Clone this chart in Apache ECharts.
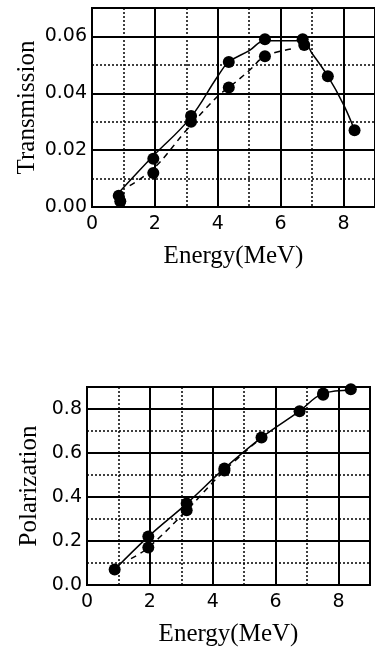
<!DOCTYPE html>
<html>
<head>
<meta charset="utf-8">
<script src="https://cdn.jsdelivr.net/npm/echarts@6/dist/echarts.min.js"></script>
<style>
  html,body{margin:0;padding:0;background:#fff;}
  #chart{width:375px;height:653px;}
</style>
</head>
<body>
<div id="chart"></div>
<script>
// measured points, transmission panel
var transEnergyA = [0.85, 1.95, 3.15, 4.35, 5.5, 6.7, 7.5, 8.35];
var transA = [0.004, 0.017, 0.032, 0.051, 0.059, 0.059, 0.046, 0.027];
var transEnergyB = [0.9, 1.95, 3.15, 4.35, 5.5, 6.75];
var transB = [0.002, 0.012, 0.030, 0.042, 0.053, 0.057];
// fitted curves, transmission panel
var transFitEnergyA = [0.85, 1.95, 3.1, 4.0, 4.35, 5.0, 5.5, 6.7, 7.0, 7.5, 8.0, 8.35];
var transFitA = [0.005, 0.018, 0.031, 0.046, 0.051, 0.055, 0.0585, 0.0585, 0.054, 0.046, 0.036, 0.027];
var transFitEnergyB = [1.2, 2.0, 3.0, 4.0, 4.35, 5.0, 5.5, 6.4];
var transFitB = [0.0075, 0.014, 0.027, 0.039, 0.042, 0.048, 0.053, 0.0557];

// measured points, polarization panel
var polEnergyA = [0.88, 1.95, 3.17, 4.37, 5.55, 6.76, 7.51, 8.39];
var polA = [0.07, 0.22, 0.37, 0.53, 0.67, 0.79, 0.87, 0.89];
var polEnergyB = [1.95, 3.17, 4.37, 7.51];
var polB = [0.17, 0.34, 0.52, 0.865];
// fitted curves, polarization panel
var polFitEnergyA = [0.88, 1.95, 3.17, 4.37, 5.55, 6.76, 7.51, 8.39];
var polFitA = [0.07, 0.22, 0.37, 0.53, 0.67, 0.79, 0.87, 0.885];
var polFitEnergyB = [1.4, 1.95, 3.17, 4.37, 5.55];
var polFitB = [0.12, 0.17, 0.34, 0.52, 0.67];

var xTicks = ['0', '2', '4', '6', '8'];

function pairs(xs, ys){
    return xs.map(function(x, i){ return [x, ys[i]]; });
}

var serif = '"Liberation Serif", "DejaVu Serif", serif';
var sans = '"DejaVu Sans", sans-serif';

function xAxes(gi){
    return [{
        type:'value', gridIndex:gi, min:0, max:9, interval:2,
        axisLine:{show:true, lineStyle:{color:'#000', width:2}},
        axisTick:{show:false},
        axisLabel:{color:'#000', fontFamily:sans, fontSize:19, margin:8, showMaxLabel:false,
            formatter:function(v){ return xTicks.indexOf(String(v)) >= 0 ? String(v) : ''; }},
        splitLine:{show:true, lineStyle:{color:'#000', width:2, type:'solid'}},
        name:'Energy(MeV)', nameLocation:'middle', nameGap:37, nameMoveOverlap:false,
        nameTextStyle:{color:'#000', fontFamily:serif, fontSize:25},
        z:3
    },{
        type:'value', gridIndex:gi, min:0, max:9, interval:1, position:'top',
        axisLine:{show:false}, axisTick:{show:false}, axisLabel:{show:false},
        splitLine:{show:true, lineStyle:{color:'#000', width:1.5, type:[2,2]}},
        z:1
    }];
}

function yAxes(gi, max, major, minor, digits, name, gap){
    return [{
        type:'value', gridIndex:gi, min:0, max:max, interval:major,
        axisLine:{show:true, lineStyle:{color:'#000', width:2}},
        axisTick:{show:false},
        axisLabel:{color:'#000', fontFamily:sans, fontSize:19, margin:5, showMaxLabel:false,
            formatter:function(v){ return v.toFixed(digits); }},
        splitLine:{show:true, lineStyle:{color:'#000', width:2, type:'solid'}},
        name:name, nameLocation:'middle', nameGap:gap, nameMoveOverlap:false,
        nameTextStyle:{color:'#000', fontFamily:serif, fontSize:25},
        z:3
    },{
        type:'value', gridIndex:gi, min:0, max:max, interval:minor, position:'right',
        axisLine:{show:false}, axisTick:{show:false}, axisLabel:{show:false},
        splitLine:{show:true, lineStyle:{color:'#000', width:1.5, type:[2,2]}},
        z:1
    }];
}

var chart = echarts.init(document.getElementById('chart'));

var xa = xAxes(0).concat(xAxes(1));
var ya = yAxes(0, 0.07, 0.02, 0.01, 2, 'Transmission', 52)
    .concat(yAxes(1, 0.9, 0.2, 0.1, 1, 'Polarization', 45));

function curve(xi, yi, data, dashed){
    return {type:'line', xAxisIndex:xi, yAxisIndex:yi, data:data, smooth:0.4,
        showSymbol:false, silent:true, z:5,
        lineStyle:{color:'#000', width:1.5, type: dashed ? [6,5] : 'solid'}};
}
function dots(xi, yi, data){
    return {type:'scatter', xAxisIndex:xi, yAxisIndex:yi, data:data,
        symbol:'circle', symbolSize:12, itemStyle:{color:'#000', opacity:1}, z:6, silent:true};
}

chart.setOption({
    backgroundColor:'#fff',
    animation:false,
    grid:[
        {left:92, top:8, width:283, height:199, show:true, borderColor:'#000', borderWidth:2,
         containLabel:false, outerBoundsMode:'none'},
        {left:87, top:387, width:283, height:198, show:true, borderColor:'#000', borderWidth:2,
         containLabel:false, outerBoundsMode:'none'}
    ],
    xAxis:xa,
    yAxis:ya,
    series:[
        curve(0, 0, pairs(transFitEnergyA, transFitA), false),
        curve(0, 0, pairs(transFitEnergyB, transFitB), true),
        dots(0, 0, pairs(transEnergyA, transA)),
        dots(0, 0, pairs(transEnergyB, transB)),
        curve(2, 2, pairs(polFitEnergyA, polFitA), false),
        curve(2, 2, pairs(polFitEnergyB, polFitB), true),
        dots(2, 2, pairs(polEnergyA, polA)),
        dots(2, 2, pairs(polEnergyB, polB))
    ]
});
</script>
</body>
</html>
